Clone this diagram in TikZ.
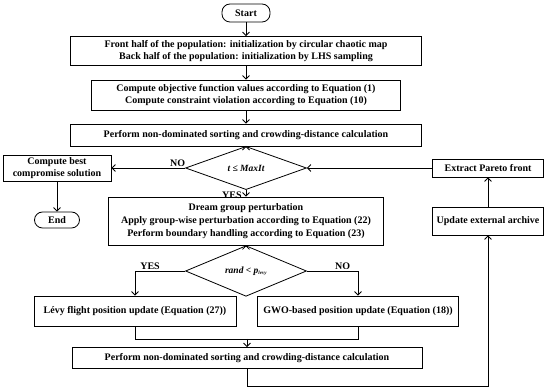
\documentclass[tikz,border=0pt]{standalone}
\usepackage{fontspec}
\setmainfont{Liberation Serif}
\usetikzlibrary{shapes.geometric,arrows.meta}

\begin{document}
\begin{tikzpicture}[
    x=1pt, y=-1pt,
    >={Straight Barb[length=3.5pt,width=7pt]},
    line width=0.8pt,
    box/.style={draw, rectangle, align=center, inner sep=0pt, font=\fontsize{10}{12.8}\selectfont\bfseries},
    term/.style={draw, rectangle, rounded corners=8pt, inner sep=0pt, font=\fontsize{10}{12}\selectfont\bfseries},
    decision/.style={draw, diamond, inner sep=0pt, font=\fontsize{9.5}{10}\selectfont\bfseries\itshape},
    lbl/.style={font=\fontsize{10}{11}\selectfont\bfseries, inner sep=1pt}
]
\useasboundingbox (0,0) rectangle (550,390);

% Main column
\node[term, minimum width=48pt, minimum height=18pt] (start) at (246,13) {Start};
\node[box, minimum width=351pt, minimum height=29pt] (init) at (246,51)
    {Front half of the population: initialization by circular chaotic map\\
     Back half of the population: initialization by LHS sampling};
\node[box, minimum width=309pt, minimum height=30pt] (eval) at (246,95)
    {Compute objective function values according to Equation (1)\\
     Compute constraint violation according to Equation (10)};
\node[box, minimum width=351pt, minimum height=22pt] (sort1) at (246,135)
    {Perform non-dominated sorting and crowding-distance calculation};
\node[decision, minimum width=121pt, minimum height=28pt] (cond1) at (246,168)
    {\textit{t} ≤ \textit{MaxIt}};
\node[box, minimum width=275pt, minimum height=48pt] (dream) at (246,221)
    {Dream group perturbation\\
     Apply group-wise perturbation according to Equation (22)\\
     Perform boundary handling according to Equation (23)};
\node[decision, minimum width=121pt, minimum height=37pt] (cond2) at (246,271)
    {\textit{rand} < \textit{p}\textsubscript{\fontsize{5}{5}\selectfont\textit{levy}}};

% Two branches
\node[box, minimum width=202pt, minimum height=30pt] (levy) at (135,311)
    {Lévy flight position update (Equation (27))};
\node[box, minimum width=201pt, minimum height=30pt] (gwo) at (358,311)
    {GWO-based position update (Equation (18))};
\coordinate (merge) at (247,339);
\node[box, minimum width=350pt, minimum height=21pt] (sort2) at (247,358)
    {Perform non-dominated sorting and crowding-distance calculation};
\coordinate (loop) at (247,386);

% Left and right columns
\node[box, minimum width=108pt, minimum height=26pt] (best) at (57,168)
    {Compute best\\compromise solution};
\node[term, minimum width=45pt, minimum height=16pt] (end) at (57,220) {End};
\node[box, minimum width=111pt, minimum height=18pt] (pareto) at (488,168)
    {Extract Pareto front};
\node[box, minimum width=111pt, minimum height=28pt] (archive) at (488,221)
    {Update external archive};

% Connectors
\draw[->] (start) -- (init);
\draw[->] (init) -- (eval);
\draw[->] (eval) -- (sort1);
\draw[->] (sort1) -- (cond1);
\draw[->] (cond1.west) -- node[lbl, above, pos=0.1] {NO} (best.east);
\draw[->] (best) -- (end);
\draw[->] (cond1) -- (dream);
\node[lbl, anchor=north east] at ([xshift=-3pt]cond1.south) {YES};
\draw[->] (pareto.west) -- (cond1.east);
\draw[->] (archive) -- (pareto);
\draw[->] (dream) -- (cond2);
\draw[->] (cond2.west) -| node[lbl, above, pos=0.35] {YES} (levy.north);
\draw[->] (cond2.east) -| node[lbl, above, pos=0.35] {NO} (gwo.north);
\draw (levy.south) |- (merge);
\draw (gwo.south) |- (merge);
\draw[->] (merge) -- (sort2);
\draw[->] (sort2.south) -- (loop) -| (archive.south);

\end{tikzpicture}
\end{document}
